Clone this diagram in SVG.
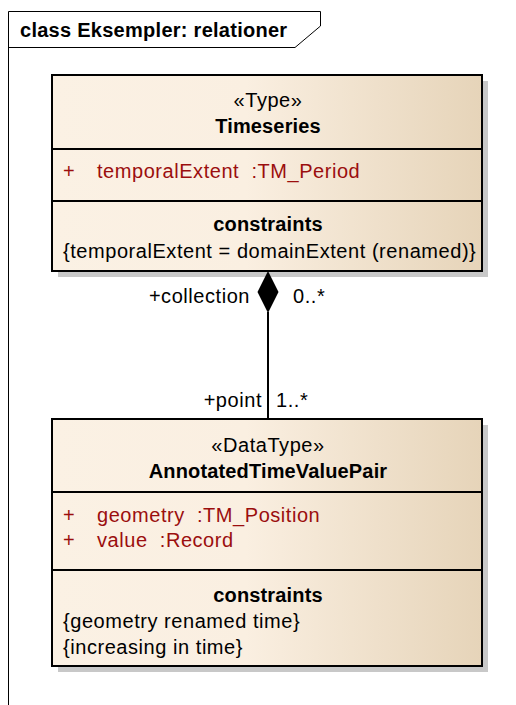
<svg xmlns="http://www.w3.org/2000/svg" width="516" height="705" viewBox="0 0 516 705">
  <defs>
    <linearGradient id="classFill" x1="0" y1="0" x2="1" y2="0">
      <stop offset="0" stop-color="#FBF1E4"/>
      <stop offset="0.45" stop-color="#FAEFE1"/>
      <stop offset="1" stop-color="#E6D4B9"/>
    </linearGradient>
  </defs>
  <style>
    text { font-family: "Liberation Sans", Arial, sans-serif; font-size: 20px; fill: #000; letter-spacing: 0.55px; white-space: pre; }
    .b { font-weight: bold; letter-spacing: 0.15px; }
    .c { text-anchor: middle; }
    .attr { fill: #9B0E0E; }
    .box { fill: url(#classFill); stroke: #000; stroke-width: 2; }
    .shadow { fill: #C8C8C8; }
    .sep { stroke: #000; stroke-width: 2; }
    .frame { fill: none; stroke: #000; stroke-width: 1; }
  </style>

  <!-- diagram frame with name tab -->
  <g id="frame">
    <rect x="0" y="0" width="516" height="705" fill="#fff"/>
    <path class="frame" d="M8.5 705 V11.5 H320.5 V26 L295 47.5 H8.5"/>
    <text class="b" x="20" y="37" style="letter-spacing:0.27px">class Eksempler: relationer</text>
  </g>

  <!-- Timeseries -->
  <g id="timeseries">
    <rect class="shadow" x="58" y="81" width="430" height="196"/>
    <rect class="box" x="52" y="75" width="430" height="196"/>
    <line class="sep" x1="52" y1="149" x2="482" y2="149"/>
    <line class="sep" x1="52" y1="201" x2="482" y2="201"/>
    <text class="c" x="268" y="107">«Type»</text>
    <text class="b c" x="268" y="133">Timeseries</text>
    <text class="attr" x="63" y="178">+</text>
    <text class="attr" x="97" y="178" xml:space="preserve">temporalExtent  :TM_Period</text>
    <text class="b c" x="268" y="231">constraints</text>
    <text x="63" y="258">{temporalExtent = domainExtent (renamed)}</text>
  </g>

  <!-- AnnotatedTimeValuePair -->
  <g id="annotatedTimeValuePair">
    <rect class="shadow" x="58" y="425" width="430" height="247"/>
    <rect class="box" x="52" y="419" width="430" height="247"/>
    <line class="sep" x1="52" y1="492" x2="482" y2="492"/>
    <line class="sep" x1="52" y1="570" x2="482" y2="570"/>
    <text class="c" x="268" y="452">«DataType»</text>
    <text class="b c" x="268" y="478">AnnotatedTimeValuePair</text>
    <text class="attr" x="63" y="522">+</text>
    <text class="attr" x="97" y="522" xml:space="preserve">geometry  :TM_Position</text>
    <text class="attr" x="63" y="547">+</text>
    <text class="attr" x="97" y="547" xml:space="preserve">value  :Record</text>
    <text class="b c" x="268" y="602">constraints</text>
    <text x="63" y="628">{geometry renamed time}</text>
    <text x="63" y="654">{increasing in time}</text>
  </g>

  <!-- composition: Timeseries ◆— AnnotatedTimeValuePair -->
  <g id="connectors">
    <line x1="268" y1="312" x2="268" y2="419" stroke="#000" stroke-width="2"/>
    <polygon points="268,271 278.5,292 268,313 257.5,292" fill="#000"/>
    <text x="250" y="303" text-anchor="end">+collection</text>
    <text x="293" y="303">0..*</text>
    <text x="262" y="407" text-anchor="end">+point</text>
    <text x="276" y="407">1..*</text>
  </g>
</svg>
